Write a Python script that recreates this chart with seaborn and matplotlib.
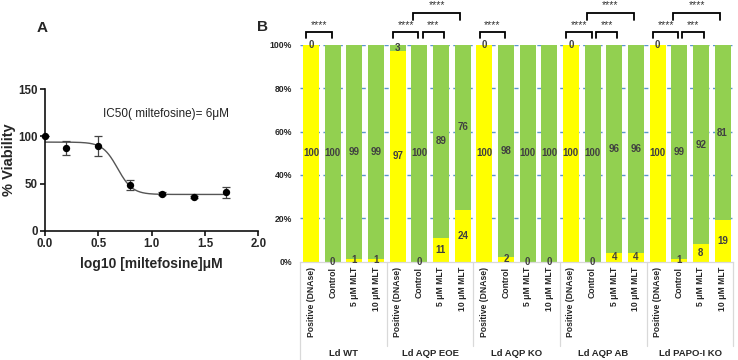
import numpy as np
import pandas as pd
import seaborn as sns
import matplotlib.pyplot as plt

# ---- panel A: dose response ----
log_conc = [0.0, 0.2, 0.5, 0.8, 1.1, 1.4, 1.7]
viability = [100, 87.5, 89.5, 48.5, 39.5, 36, 41]
viability_sd = [0, 7.6, 10.6, 5.0, 1.5, 1.0, 5.8]
# 4PL fit
fit_top, fit_bottom, fit_log_ic50, fit_hill = 94, 38.5, 0.68, 6.2

# ---- panel B: stacked percentage bars ----
groups = ["Ld WT", "Ld AQP EOE", "Ld AQP KO", "Ld AQP AB", "Ld PAPO-I KO"]
conditions = ["Positive (DNAse)", "Control", "5 μM MLT", "10 μM MLT"]
yellow_pct = [100, 0, 1, 1,
              97, 0, 11, 24,
              100, 2, 0, 0,
              100, 0, 4, 4,
              100, 1, 8, 19]
green_pct = [0, 100, 99, 99,
             3, 100, 89, 76,
             0, 98, 100, 100,
             0, 100, 96, 96,
             0, 99, 92, 81]
# (bar a, bar b, stars, level)
comparisons = [(0, 1, "****", 1),
               (4, 5, "****", 1), (5, 6, "***", 1), (5, 7, "****", 2),
               (8, 9, "****", 1),
               (12, 13, "****", 1), (13, 14, "***", 1), (13, 15, "****", 2),
               (16, 17, "****", 1), (17, 18, "***", 1), (17, 19, "****", 2)]

YELLOW = "#ffff00"
GREEN = "#92d050"
TXT = "#404040"

sns.set_style("ticks")
plt.rcParams["font.family"] = ["Liberation Sans", "DejaVu Sans"]

fig = plt.figure(figsize=(7.38, 3.6), dpi=100)

# ---------- A ----------
ax_a = fig.add_axes([0.061, 0.359, 0.289, 0.393])
xs = np.linspace(0, 1.7, 300)
curve = fit_bottom + (fit_top - fit_bottom) / (1 + 10 ** ((xs - fit_log_ic50) * fit_hill))
sns.lineplot(x=xs, y=curve, color="#555555", linewidth=1.0, ax=ax_a)
ax_a.errorbar(log_conc, viability, yerr=viability_sd, fmt="none", ecolor="#444444",
              elinewidth=0.9, capsize=2.6, capthick=0.9, clip_on=False, zorder=2)
sns.scatterplot(x=log_conc, y=viability, color="black", s=28, edgecolor="black",
                linewidth=0, clip_on=False, zorder=3, ax=ax_a)
ax_a.set_xlim(0, 2)
ax_a.set_ylim(0, 150)
ax_a.set_xticks([0, 0.5, 1.0, 1.5, 2.0])
ax_a.set_xticklabels(["0.0", "0.5", "1.0", "1.5", "2.0"])
ax_a.set_yticks([0, 50, 100, 150])
for s in ["top", "right"]:
    ax_a.spines[s].set_visible(False)
for s in ["left", "bottom"]:
    ax_a.spines[s].set_linewidth(1.2)
    ax_a.spines[s].set_color("#111111")
ax_a.tick_params(length=3.5, width=1.2, pad=1.5, labelsize=8.3, color="#111111")
for lab in ax_a.get_xticklabels() + ax_a.get_yticklabels():
    lab.set_fontweight("bold")
ax_a.set_xlabel("log10 [miltefosine]μM", fontsize=10, fontweight="bold", labelpad=5)
ax_a.set_ylabel("% Viability", fontsize=10.5, fontweight="bold", labelpad=2)
ax_a.text(1.13, 124, "IC50( miltefosine)= 6μM", fontsize=8.5, color="#222222",
          ha="center", va="center")

# ---------- B ----------
ax_b = fig.add_axes([0.4068, 0.2736, 0.5869, 0.6014])
keys = [f"{g}|{c}" for g in groups for c in conditions]
df = pd.DataFrame({"key": keys,
                   "yellow": yellow_pct,
                   "green": green_pct})
df["total"] = df["yellow"] + df["green"]

for v in [20, 40, 60, 80, 100]:
    ax_b.axhline(v, color="#5b96cc", linewidth=1.0, linestyle=(0, (3, 2.5)), zorder=0.5)

sns.barplot(df, x="key", y="total", order=keys, color=GREEN, saturation=1,
            width=0.74, linewidth=0, ax=ax_b, zorder=2)
sns.barplot(df, x="key", y="yellow", order=keys, color=YELLOW, saturation=1,
            width=0.74, linewidth=0, ax=ax_b, zorder=2)

for i, (yv, gv) in enumerate(zip(yellow_pct, green_pct)):
    ax_b.text(i, yv / 2, str(yv), ha="center", va="center", fontsize=7,
              fontweight="bold", color=TXT, zorder=5)
    ax_b.text(i, yv + gv / 2, str(gv), ha="center", va="center", fontsize=7,
              fontweight="bold", color=TXT, zorder=5)

ax_b.set_xlim(-0.5, 19.5)
ax_b.set_ylim(0, 100)
ax_b.set_yticks([0, 20, 40, 60, 80, 100])
ax_b.set_yticklabels([f"{v}%" for v in [0, 20, 40, 60, 80, 100]])
ax_b.set_xticks(range(len(keys)))
ax_b.set_xticklabels(conditions * len(groups), rotation=90, va="top", ha="center")
ax_b.tick_params(axis="y", length=0, pad=6, labelsize=6.2, labelcolor="#262626")
ax_b.tick_params(axis="x", length=0, pad=4, labelsize=6.2, labelcolor="#262626")
for lab in ax_b.get_yticklabels() + ax_b.get_xticklabels():
    lab.set_fontweight("bold")
ax_b.set_xlabel("")
ax_b.set_ylabel("")
for s in ["top", "right", "left"]:
    ax_b.spines[s].set_visible(False)
ax_b.spines["bottom"].set_color("#d9d9d9")
ax_b.spines["bottom"].set_linewidth(0.9)

# group separators and group labels
trans = ax_b.get_xaxis_transform()
ax_b.plot([-0.5, -0.5], [0, -0.46], transform=trans, color="#d9d9d9", lw=0.9, clip_on=False)
for b in [3.5, 7.5, 11.5, 15.5, 19.5]:
    ax_b.plot([b, b], [0, -0.39], transform=trans, color="#d9d9d9", lw=0.9, clip_on=False)
for gi, g in enumerate(groups):
    ax_b.text(gi * 4 + 1.5, -0.425, g, transform=trans, ha="center", va="center",
              fontsize=6.8, fontweight="bold", color="#262626")

# significance brackets
for a, b, stars, level in comparisons:
    if level == 1:
        if a % 4 == 0:
            x0, x1 = a - 0.22, b - 0.04
        else:
            x0, x1 = a + 0.15, b + 0.15
        top, leg, ty = 106.0, 103.2, 107.0
    else:
        x0, x1 = a - 0.28, b - 0.11
        top, leg, ty = 114.8, 111.5, 116.0
    ax_b.plot([x0, x0, x1, x1], [leg, top, top, leg], color="black", lw=1.3,
              clip_on=False, solid_joinstyle="miter")
    ax_b.text((x0 + x1) / 2, ty, stars, ha="center", va="bottom", fontsize=7.5,
              color="#333333", clip_on=False)

# panel letters
fig.text(42 / 738, 1 - 28 / 360, "A", fontsize=11, fontweight="bold", ha="center", va="center")
fig.text(263 / 738, 1 - 27 / 360, "B", fontsize=11, fontweight="bold", ha="center", va="center")

fig.savefig("out.png", dpi=100)
